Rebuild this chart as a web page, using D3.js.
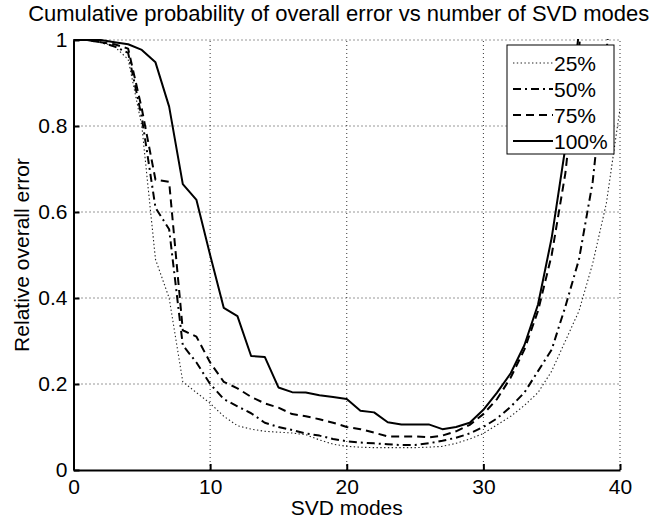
<!DOCTYPE html>
<html>
<head>
<meta charset="utf-8">
<script src="https://cdn.jsdelivr.net/npm/d3@7"></script>
<style>
  body { margin: 0; background: #fff; }
  svg text { font-family: "Liberation Sans", Arial, sans-serif; fill: #000; }
</style>
</head>
<body>
<div id="chart"></div>
<script>
// SVD modes 0..40
var modes = d3.range(0, 41);

// relative overall error per curve
var err25 = [1, 1, 0.995, 0.985, 0.955, 0.8, 0.49, 0.4, 0.205, 0.18,
  0.155, 0.125, 0.103, 0.095, 0.09, 0.088, 0.086, 0.082, 0.07, 0.06,
  0.055, 0.053, 0.052, 0.052, 0.052, 0.052, 0.053, 0.055, 0.062, 0.072,
  0.085, 0.105, 0.125, 0.15, 0.18, 0.23, 0.3, 0.37, 0.48, 0.62, 0.84];
var err50 = [1, 1, 0.995, 0.985, 0.97, 0.82, 0.61, 0.56, 0.29, 0.25,
  0.2, 0.165, 0.148, 0.132, 0.11, 0.1, 0.093, 0.085, 0.08, 0.072,
  0.067, 0.064, 0.062, 0.06, 0.058, 0.058, 0.062, 0.068, 0.075, 0.085,
  0.1, 0.12, 0.147, 0.18, 0.23, 0.28, 0.38, 0.49, 0.67, 0.97, 1.3];
var err75 = [1, 1, 0.995, 0.99, 0.98, 0.84, 0.675, 0.67, 0.325, 0.31,
  0.25, 0.205, 0.19, 0.17, 0.155, 0.145, 0.13, 0.125, 0.118, 0.11,
  0.1, 0.095, 0.087, 0.078, 0.078, 0.078, 0.076, 0.08, 0.09, 0.105,
  0.13, 0.165, 0.215, 0.28, 0.37, 0.5, 0.69, 0.98, 1.3, 1.6, 1.9];
var err100 = [1, 1, 1, 0.995, 0.99, 0.977, 0.948, 0.845, 0.665, 0.628,
  0.5, 0.377, 0.358, 0.265, 0.263, 0.192, 0.181, 0.18, 0.174, 0.17,
  0.165, 0.138, 0.134, 0.111, 0.106, 0.106, 0.106, 0.095, 0.1, 0.11,
  0.14, 0.18, 0.225, 0.29, 0.385, 0.54, 0.75, 1.02, 1.3, 1.6, 1.9];

var seriesNames = ["25%", "50%", "75%", "100%"];
var seriesValues = [err25, err50, err75, err100];

var xTicks = [0, 10, 20, 30, 40];
var yTicks = [0, 0.2, 0.4, 0.6, 0.8, 1];

function draw() {
    var w = 661, h = 521;
    var left = 73.5, right = 620, top = 40, bottom = 470;

    // line look per series: dotted, dash-dot, dashed, solid
    var styles = [
        { dash: "1.4,2.4", width: 1.1, color: "#222" },
        { dash: "8,4,2,4", width: 2, color: "#000" },
        { dash: "8,5", width: 2, color: "#000" },
        { dash: null, width: 2, color: "#000" }
    ];

    var svg = d3.select("#chart").append("svg")
        .attr("width", w)
        .attr("height", h);

    var x = d3.scaleLinear().domain([0, 40]).range([left, right]);
    var y = d3.scaleLinear().domain([0, 1]).range([bottom, top]);

    // dotted grid
    svg.append("g")
        .selectAll("line.vg")
        .data(xTicks.filter(d => d > 0))
        .enter().append("line")
        .attr("x1", d => x(d)).attr("x2", d => x(d))
        .attr("y1", y(0)).attr("y2", y(1))
        .attr("stroke", "#333").attr("stroke-width", 1)
        .attr("stroke-dasharray", "1,3");
    svg.append("g")
        .selectAll("line.hg")
        .data(yTicks.filter(d => d > 0))
        .enter().append("line")
        .attr("x1", x(0)).attr("x2", x(40))
        .attr("y1", d => y(d)).attr("y2", d => y(d))
        .attr("stroke", "#333").attr("stroke-width", 1)
        .attr("stroke-dasharray", "1,3");

    svg.append("clipPath").attr("id", "plotclip")
        .append("rect")
        .attr("x", left).attr("y", top - 1)
        .attr("width", right - left).attr("height", bottom - top + 1);

    var line = d3.line()
        .x((d, i) => x(modes[i]))
        .y(d => y(d));

    var curves = svg.append("g").attr("clip-path", "url(#plotclip)");
    seriesValues.forEach(function (vals, k) {
        curves.append("path")
            .datum(vals)
            .attr("d", line)
            .attr("fill", "none")
            .attr("stroke", styles[k].color)
            .attr("stroke-width", styles[k].width)
            .attr("stroke-dasharray", styles[k].dash)
            .attr("stroke-linejoin", "round");
    });

    // axes, ticks pointing inward
    var xAxis = d3.axisBottom(x)
        .tickValues(xTicks)
        .tickSizeInner(-6)
        .tickSizeOuter(0)
        .tickPadding(9);
    var gx = svg.append("g")
        .attr("transform", "translate(0," + bottom + ")")
        .call(xAxis);

    var yAxis = d3.axisLeft(y)
        .tickValues(yTicks)
        .tickFormat(d => (d === 0 || d === 1) ? d : d.toFixed(1))
        .tickSizeInner(-6)
        .tickSizeOuter(0)
        .tickPadding(6);
    var gy = svg.append("g")
        .attr("transform", "translate(" + left + ",0)")
        .call(yAxis);

    [gx, gy].forEach(function (g) {
        g.select(".domain").attr("stroke", "#000").attr("stroke-width", 2);
        g.selectAll(".tick line").attr("stroke", "#000").attr("stroke-width", 2);
        g.selectAll(".tick text")
            .style("font-size", "21px")
            .style("font-family", "Liberation Sans, Arial, sans-serif")
            .attr("fill", "#000");
    });

    // title and labels
    svg.append("text")
        .attr("x", (left + right) / 2 - 8)
        .attr("y", 21)
        .attr("text-anchor", "middle")
        .style("font-size", "22px")
        .text("Cumulative probability of overall error vs number of SVD modes");

    svg.append("text")
        .attr("x", (left + right) / 2)
        .attr("y", 515)
        .attr("text-anchor", "middle")
        .style("font-size", "21px")
        .text("SVD modes");

    svg.append("text")
        .attr("transform", "translate(29," + ((top + bottom) / 2) + ") rotate(-90)")
        .attr("text-anchor", "middle")
        .style("font-size", "21px")
        .text("Relative overall error");

    // legend box
    var lg = svg.append("g").attr("transform", "translate(507,45)");
    lg.append("rect")
        .attr("width", 107).attr("height", 109)
        .attr("fill", "#fff")
        .attr("stroke", "#000").attr("stroke-width", 1);
    seriesNames.forEach(function (name, k) {
        var cy = 18 + k * 26;
        lg.append("line")
            .attr("x1", 6).attr("x2", 46)
            .attr("y1", cy).attr("y2", cy)
            .attr("stroke", styles[k].color)
            .attr("stroke-width", styles[k].width)
            .attr("stroke-dasharray", styles[k].dash);
        lg.append("text")
            .attr("x", 47)
            .attr("y", cy + 7.5)
            .style("font-size", "21px")
            .text(name);
    });
}

window.onload = draw;
</script>
</body>
</html>
